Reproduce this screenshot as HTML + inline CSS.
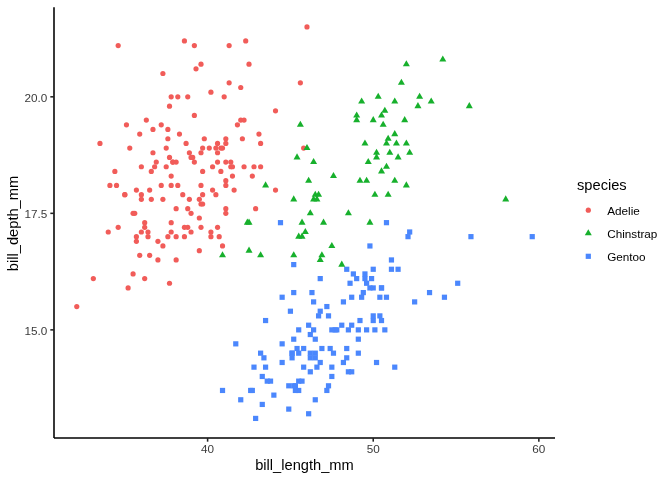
<!DOCTYPE html>
<html><head><meta charset="utf-8"><title>penguins</title>
<style>
html,body{margin:0;padding:0;background:#fff;}
body{width:672px;height:480px;overflow:hidden;}
svg{display:block;will-change:transform;font-family:"Liberation Sans",Arial,Helvetica,sans-serif;}
.at{font-size:11.73px;fill:#3A3A3A;}
.ti{font-size:14.67px;fill:#000;}
.lt{font-size:11.73px;fill:#000;}
</style></head><body>
<svg width="672" height="480" viewBox="0 0 672 480">
<rect width="672" height="480" fill="#fff"/>
<g>
<circle cx="192.71" cy="157.41" r="2.6" fill="#F15C59"/>
<circle cx="199.33" cy="218.00" r="2.6" fill="#F15C59"/>
<circle cx="212.58" cy="190.04" r="2.6" fill="#F15C59"/>
<circle cx="152.96" cy="129.45" r="2.6" fill="#F15C59"/>
<circle cx="196.02" cy="68.85" r="2.6" fill="#F15C59"/>
<circle cx="189.39" cy="199.36" r="2.6" fill="#F15C59"/>
<circle cx="194.36" cy="115.46" r="2.6" fill="#F15C59"/>
<circle cx="109.90" cy="185.38" r="2.6" fill="#F15C59"/>
<circle cx="240.74" cy="87.50" r="2.6" fill="#F15C59"/>
<circle cx="171.18" cy="231.99" r="2.6" fill="#F15C59"/>
<circle cx="171.18" cy="222.66" r="2.6" fill="#F15C59"/>
<circle cx="225.83" cy="208.68" r="2.6" fill="#F15C59"/>
<circle cx="184.43" cy="40.89" r="2.6" fill="#F15C59"/>
<circle cx="118.18" cy="45.55" r="2.6" fill="#F15C59"/>
<circle cx="151.30" cy="199.36" r="2.6" fill="#F15C59"/>
<circle cx="186.08" cy="143.43" r="2.6" fill="#F15C59"/>
<circle cx="249.02" cy="64.19" r="2.6" fill="#F15C59"/>
<circle cx="114.87" cy="171.39" r="2.6" fill="#F15C59"/>
<circle cx="306.98" cy="26.91" r="2.6" fill="#F15C59"/>
<circle cx="171.18" cy="176.06" r="2.6" fill="#F15C59"/>
<circle cx="169.52" cy="157.41" r="2.6" fill="#F15C59"/>
<circle cx="139.71" cy="134.11" r="2.6" fill="#F15C59"/>
<circle cx="177.80" cy="185.38" r="2.6" fill="#F15C59"/>
<circle cx="187.74" cy="227.33" r="2.6" fill="#F15C59"/>
<circle cx="129.77" cy="148.09" r="2.6" fill="#F15C59"/>
<circle cx="217.55" cy="162.07" r="2.6" fill="#F15C59"/>
<circle cx="215.89" cy="194.70" r="2.6" fill="#F15C59"/>
<circle cx="172.83" cy="162.07" r="2.6" fill="#F15C59"/>
<circle cx="215.89" cy="148.09" r="2.6" fill="#F15C59"/>
<circle cx="199.33" cy="250.63" r="2.6" fill="#F15C59"/>
<circle cx="161.24" cy="185.38" r="2.6" fill="#F15C59"/>
<circle cx="199.33" cy="199.36" r="2.6" fill="#F15C59"/>
<circle cx="222.52" cy="148.09" r="2.6" fill="#F15C59"/>
<circle cx="147.99" cy="236.65" r="2.6" fill="#F15C59"/>
<circle cx="194.36" cy="45.55" r="2.6" fill="#F15C59"/>
<circle cx="187.74" cy="96.82" r="2.6" fill="#F15C59"/>
<circle cx="244.05" cy="166.73" r="2.6" fill="#F15C59"/>
<circle cx="167.86" cy="129.45" r="2.6" fill="#F15C59"/>
<circle cx="204.30" cy="138.77" r="2.6" fill="#F15C59"/>
<circle cx="149.65" cy="190.04" r="2.6" fill="#F15C59"/>
<circle cx="220.86" cy="171.39" r="2.6" fill="#F15C59"/>
<circle cx="141.36" cy="166.73" r="2.6" fill="#F15C59"/>
<circle cx="275.52" cy="110.80" r="2.6" fill="#F15C59"/>
<circle cx="157.93" cy="241.31" r="2.6" fill="#F15C59"/>
<circle cx="200.99" cy="152.75" r="2.6" fill="#F15C59"/>
<circle cx="225.83" cy="143.43" r="2.6" fill="#F15C59"/>
<circle cx="166.21" cy="148.09" r="2.6" fill="#F15C59"/>
<circle cx="141.36" cy="194.70" r="2.6" fill="#F15C59"/>
<circle cx="245.70" cy="40.89" r="2.6" fill="#F15C59"/>
<circle cx="200.99" cy="204.02" r="2.6" fill="#F15C59"/>
<circle cx="209.27" cy="148.09" r="2.6" fill="#F15C59"/>
<circle cx="124.80" cy="194.70" r="2.6" fill="#F15C59"/>
<circle cx="240.74" cy="120.12" r="2.6" fill="#F15C59"/>
<circle cx="116.52" cy="185.38" r="2.6" fill="#F15C59"/>
<circle cx="230.80" cy="162.07" r="2.6" fill="#F15C59"/>
<circle cx="191.05" cy="213.34" r="2.6" fill="#F15C59"/>
<circle cx="217.55" cy="152.75" r="2.6" fill="#F15C59"/>
<circle cx="149.65" cy="255.29" r="2.6" fill="#F15C59"/>
<circle cx="167.86" cy="138.77" r="2.6" fill="#F15C59"/>
<circle cx="136.40" cy="241.31" r="2.6" fill="#F15C59"/>
<circle cx="229.14" cy="45.55" r="2.6" fill="#F15C59"/>
<circle cx="167.86" cy="236.65" r="2.6" fill="#F15C59"/>
<circle cx="225.83" cy="180.72" r="2.6" fill="#F15C59"/>
<circle cx="147.99" cy="231.99" r="2.6" fill="#F15C59"/>
<circle cx="234.11" cy="190.04" r="2.6" fill="#F15C59"/>
<circle cx="133.08" cy="273.94" r="2.6" fill="#F15C59"/>
<circle cx="225.83" cy="138.77" r="2.6" fill="#F15C59"/>
<circle cx="139.71" cy="255.29" r="2.6" fill="#F15C59"/>
<circle cx="237.42" cy="124.79" r="2.6" fill="#F15C59"/>
<circle cx="99.96" cy="143.43" r="2.6" fill="#F15C59"/>
<circle cx="202.64" cy="171.39" r="2.6" fill="#F15C59"/>
<circle cx="200.99" cy="227.33" r="2.6" fill="#F15C59"/>
<circle cx="303.67" cy="148.09" r="2.6" fill="#F15C59"/>
<circle cx="133.08" cy="213.34" r="2.6" fill="#F15C59"/>
<circle cx="253.99" cy="166.73" r="2.6" fill="#F15C59"/>
<circle cx="222.52" cy="245.97" r="2.6" fill="#F15C59"/>
<circle cx="161.24" cy="124.79" r="2.6" fill="#F15C59"/>
<circle cx="144.68" cy="278.60" r="2.6" fill="#F15C59"/>
<circle cx="242.39" cy="138.77" r="2.6" fill="#F15C59"/>
<circle cx="118.18" cy="227.33" r="2.6" fill="#F15C59"/>
<circle cx="255.64" cy="208.68" r="2.6" fill="#F15C59"/>
<circle cx="152.96" cy="152.75" r="2.6" fill="#F15C59"/>
<circle cx="126.46" cy="124.79" r="2.6" fill="#F15C59"/>
<circle cx="162.90" cy="199.36" r="2.6" fill="#F15C59"/>
<circle cx="229.14" cy="82.84" r="2.6" fill="#F15C59"/>
<circle cx="146.33" cy="120.12" r="2.6" fill="#F15C59"/>
<circle cx="156.27" cy="162.07" r="2.6" fill="#F15C59"/>
<circle cx="179.46" cy="134.11" r="2.6" fill="#F15C59"/>
<circle cx="189.39" cy="152.75" r="2.6" fill="#F15C59"/>
<circle cx="136.40" cy="190.04" r="2.6" fill="#F15C59"/>
<circle cx="225.83" cy="185.38" r="2.6" fill="#F15C59"/>
<circle cx="108.24" cy="231.99" r="2.6" fill="#F15C59"/>
<circle cx="200.99" cy="185.38" r="2.6" fill="#F15C59"/>
<circle cx="144.68" cy="222.66" r="2.6" fill="#F15C59"/>
<circle cx="220.86" cy="148.09" r="2.6" fill="#F15C59"/>
<circle cx="176.14" cy="162.07" r="2.6" fill="#F15C59"/>
<circle cx="212.58" cy="166.73" r="2.6" fill="#F15C59"/>
<circle cx="93.33" cy="278.60" r="2.6" fill="#F15C59"/>
<circle cx="260.61" cy="166.73" r="2.6" fill="#F15C59"/>
<circle cx="124.80" cy="194.70" r="2.6" fill="#F15C59"/>
<circle cx="224.17" cy="96.82" r="2.6" fill="#F15C59"/>
<circle cx="169.52" cy="283.26" r="2.6" fill="#F15C59"/>
<circle cx="171.18" cy="96.82" r="2.6" fill="#F15C59"/>
<circle cx="172.83" cy="162.07" r="2.6" fill="#F15C59"/>
<circle cx="202.64" cy="148.09" r="2.6" fill="#F15C59"/>
<circle cx="184.43" cy="227.33" r="2.6" fill="#F15C59"/>
<circle cx="177.80" cy="96.82" r="2.6" fill="#F15C59"/>
<circle cx="176.14" cy="236.65" r="2.6" fill="#F15C59"/>
<circle cx="260.61" cy="143.43" r="2.6" fill="#F15C59"/>
<circle cx="176.14" cy="259.95" r="2.6" fill="#F15C59"/>
<circle cx="300.36" cy="82.84" r="2.6" fill="#F15C59"/>
<circle cx="202.64" cy="204.02" r="2.6" fill="#F15C59"/>
<circle cx="244.05" cy="120.12" r="2.6" fill="#F15C59"/>
<circle cx="200.99" cy="64.19" r="2.6" fill="#F15C59"/>
<circle cx="252.33" cy="176.06" r="2.6" fill="#F15C59"/>
<circle cx="184.43" cy="236.65" r="2.6" fill="#F15C59"/>
<circle cx="162.90" cy="73.52" r="2.6" fill="#F15C59"/>
<circle cx="136.40" cy="236.65" r="2.6" fill="#F15C59"/>
<circle cx="225.83" cy="162.07" r="2.6" fill="#F15C59"/>
<circle cx="144.68" cy="227.33" r="2.6" fill="#F15C59"/>
<circle cx="169.52" cy="106.14" r="2.6" fill="#F15C59"/>
<circle cx="210.92" cy="236.65" r="2.6" fill="#F15C59"/>
<circle cx="230.80" cy="166.73" r="2.6" fill="#F15C59"/>
<circle cx="128.11" cy="287.92" r="2.6" fill="#F15C59"/>
<circle cx="217.55" cy="143.43" r="2.6" fill="#F15C59"/>
<circle cx="187.74" cy="208.68" r="2.6" fill="#F15C59"/>
<circle cx="232.46" cy="176.06" r="2.6" fill="#F15C59"/>
<circle cx="191.05" cy="231.99" r="2.6" fill="#F15C59"/>
<circle cx="275.52" cy="190.04" r="2.6" fill="#F15C59"/>
<circle cx="182.77" cy="194.70" r="2.6" fill="#F15C59"/>
<circle cx="258.95" cy="134.11" r="2.6" fill="#F15C59"/>
<circle cx="154.61" cy="166.73" r="2.6" fill="#F15C59"/>
<circle cx="166.21" cy="166.73" r="2.6" fill="#F15C59"/>
<circle cx="176.14" cy="208.68" r="2.6" fill="#F15C59"/>
<circle cx="225.83" cy="213.34" r="2.6" fill="#F15C59"/>
<circle cx="134.74" cy="213.34" r="2.6" fill="#F15C59"/>
<circle cx="210.92" cy="92.16" r="2.6" fill="#F15C59"/>
<circle cx="157.93" cy="259.95" r="2.6" fill="#F15C59"/>
<circle cx="202.64" cy="194.70" r="2.6" fill="#F15C59"/>
<circle cx="210.92" cy="231.99" r="2.6" fill="#F15C59"/>
<circle cx="217.55" cy="227.33" r="2.6" fill="#F15C59"/>
<circle cx="76.77" cy="306.56" r="2.6" fill="#F15C59"/>
<circle cx="219.21" cy="236.65" r="2.6" fill="#F15C59"/>
<circle cx="162.90" cy="245.97" r="2.6" fill="#F15C59"/>
<circle cx="191.05" cy="157.41" r="2.6" fill="#F15C59"/>
<circle cx="194.36" cy="162.07" r="2.6" fill="#F15C59"/>
<circle cx="151.30" cy="171.39" r="2.6" fill="#F15C59"/>
<circle cx="141.36" cy="199.36" r="2.6" fill="#F15C59"/>
<circle cx="171.18" cy="185.38" r="2.6" fill="#F15C59"/>
<circle cx="141.36" cy="231.99" r="2.6" fill="#F15C59"/>
<circle cx="232.46" cy="166.73" r="2.6" fill="#F15C59"/>
<rect x="306.04" y="411.16" width="5.2" height="5.2" fill="#4B87FD"/>
<rect x="370.63" y="266.67" width="5.2" height="5.2" fill="#4B87FD"/>
<rect x="349.10" y="369.21" width="5.2" height="5.2" fill="#4B87FD"/>
<rect x="370.63" y="317.94" width="5.2" height="5.2" fill="#4B87FD"/>
<rect x="330.88" y="350.57" width="5.2" height="5.2" fill="#4B87FD"/>
<rect x="312.67" y="397.18" width="5.2" height="5.2" fill="#4B87FD"/>
<rect x="294.45" y="345.91" width="5.2" height="5.2" fill="#4B87FD"/>
<rect x="315.98" y="313.28" width="5.2" height="5.2" fill="#4B87FD"/>
<rect x="259.67" y="401.84" width="5.2" height="5.2" fill="#4B87FD"/>
<rect x="317.63" y="308.62" width="5.2" height="5.2" fill="#4B87FD"/>
<rect x="219.92" y="387.86" width="5.2" height="5.2" fill="#4B87FD"/>
<rect x="354.07" y="276.00" width="5.2" height="5.2" fill="#4B87FD"/>
<rect x="296.10" y="387.86" width="5.2" height="5.2" fill="#4B87FD"/>
<rect x="344.13" y="345.91" width="5.2" height="5.2" fill="#4B87FD"/>
<rect x="301.07" y="345.91" width="5.2" height="5.2" fill="#4B87FD"/>
<rect x="359.04" y="294.64" width="5.2" height="5.2" fill="#4B87FD"/>
<rect x="238.14" y="397.18" width="5.2" height="5.2" fill="#4B87FD"/>
<rect x="357.38" y="317.94" width="5.2" height="5.2" fill="#4B87FD"/>
<rect x="307.70" y="350.57" width="5.2" height="5.2" fill="#4B87FD"/>
<rect x="349.10" y="322.61" width="5.2" height="5.2" fill="#4B87FD"/>
<rect x="373.94" y="359.89" width="5.2" height="5.2" fill="#4B87FD"/>
<rect x="289.48" y="350.57" width="5.2" height="5.2" fill="#4B87FD"/>
<rect x="312.67" y="350.57" width="5.2" height="5.2" fill="#4B87FD"/>
<rect x="309.35" y="289.98" width="5.2" height="5.2" fill="#4B87FD"/>
<rect x="253.04" y="415.82" width="5.2" height="5.2" fill="#4B87FD"/>
<rect x="306.04" y="322.61" width="5.2" height="5.2" fill="#4B87FD"/>
<rect x="279.54" y="359.89" width="5.2" height="5.2" fill="#4B87FD"/>
<rect x="334.20" y="327.27" width="5.2" height="5.2" fill="#4B87FD"/>
<rect x="340.82" y="359.89" width="5.2" height="5.2" fill="#4B87FD"/>
<rect x="370.63" y="313.28" width="5.2" height="5.2" fill="#4B87FD"/>
<rect x="325.91" y="313.28" width="5.2" height="5.2" fill="#4B87FD"/>
<rect x="251.39" y="364.55" width="5.2" height="5.2" fill="#4B87FD"/>
<rect x="289.48" y="350.57" width="5.2" height="5.2" fill="#4B87FD"/>
<rect x="529.63" y="234.05" width="5.2" height="5.2" fill="#4B87FD"/>
<rect x="355.73" y="336.59" width="5.2" height="5.2" fill="#4B87FD"/>
<rect x="344.13" y="266.67" width="5.2" height="5.2" fill="#4B87FD"/>
<rect x="248.07" y="387.86" width="5.2" height="5.2" fill="#4B87FD"/>
<rect x="277.89" y="220.06" width="5.2" height="5.2" fill="#4B87FD"/>
<rect x="271.26" y="392.52" width="5.2" height="5.2" fill="#4B87FD"/>
<rect x="349.10" y="294.64" width="5.2" height="5.2" fill="#4B87FD"/>
<rect x="249.73" y="387.86" width="5.2" height="5.2" fill="#4B87FD"/>
<rect x="364.01" y="280.66" width="5.2" height="5.2" fill="#4B87FD"/>
<rect x="292.79" y="387.86" width="5.2" height="5.2" fill="#4B87FD"/>
<rect x="364.01" y="327.27" width="5.2" height="5.2" fill="#4B87FD"/>
<rect x="378.91" y="285.32" width="5.2" height="5.2" fill="#4B87FD"/>
<rect x="264.64" y="378.54" width="5.2" height="5.2" fill="#4B87FD"/>
<rect x="296.10" y="378.54" width="5.2" height="5.2" fill="#4B87FD"/>
<rect x="378.91" y="285.32" width="5.2" height="5.2" fill="#4B87FD"/>
<rect x="286.17" y="406.50" width="5.2" height="5.2" fill="#4B87FD"/>
<rect x="291.13" y="289.98" width="5.2" height="5.2" fill="#4B87FD"/>
<rect x="314.32" y="364.55" width="5.2" height="5.2" fill="#4B87FD"/>
<rect x="345.79" y="369.21" width="5.2" height="5.2" fill="#4B87FD"/>
<rect x="289.48" y="355.23" width="5.2" height="5.2" fill="#4B87FD"/>
<rect x="372.29" y="327.27" width="5.2" height="5.2" fill="#4B87FD"/>
<rect x="312.67" y="355.23" width="5.2" height="5.2" fill="#4B87FD"/>
<rect x="287.82" y="308.62" width="5.2" height="5.2" fill="#4B87FD"/>
<rect x="267.95" y="378.54" width="5.2" height="5.2" fill="#4B87FD"/>
<rect x="296.10" y="327.27" width="5.2" height="5.2" fill="#4B87FD"/>
<rect x="258.01" y="350.57" width="5.2" height="5.2" fill="#4B87FD"/>
<rect x="377.26" y="313.28" width="5.2" height="5.2" fill="#4B87FD"/>
<rect x="292.79" y="383.20" width="5.2" height="5.2" fill="#4B87FD"/>
<rect x="307.70" y="331.93" width="5.2" height="5.2" fill="#4B87FD"/>
<rect x="299.42" y="378.54" width="5.2" height="5.2" fill="#4B87FD"/>
<rect x="441.85" y="294.64" width="5.2" height="5.2" fill="#4B87FD"/>
<rect x="301.07" y="364.55" width="5.2" height="5.2" fill="#4B87FD"/>
<rect x="367.32" y="243.37" width="5.2" height="5.2" fill="#4B87FD"/>
<rect x="307.70" y="355.23" width="5.2" height="5.2" fill="#4B87FD"/>
<rect x="362.35" y="271.34" width="5.2" height="5.2" fill="#4B87FD"/>
<rect x="262.98" y="364.55" width="5.2" height="5.2" fill="#4B87FD"/>
<rect x="382.23" y="327.27" width="5.2" height="5.2" fill="#4B87FD"/>
<rect x="332.54" y="327.27" width="5.2" height="5.2" fill="#4B87FD"/>
<rect x="311.01" y="299.30" width="5.2" height="5.2" fill="#4B87FD"/>
<rect x="340.82" y="299.30" width="5.2" height="5.2" fill="#4B87FD"/>
<rect x="312.67" y="336.59" width="5.2" height="5.2" fill="#4B87FD"/>
<rect x="311.01" y="327.27" width="5.2" height="5.2" fill="#4B87FD"/>
<rect x="347.45" y="280.66" width="5.2" height="5.2" fill="#4B87FD"/>
<rect x="329.23" y="364.55" width="5.2" height="5.2" fill="#4B87FD"/>
<rect x="388.85" y="266.67" width="5.2" height="5.2" fill="#4B87FD"/>
<rect x="291.13" y="383.20" width="5.2" height="5.2" fill="#4B87FD"/>
<rect x="291.13" y="262.01" width="5.2" height="5.2" fill="#4B87FD"/>
<rect x="355.73" y="350.57" width="5.2" height="5.2" fill="#4B87FD"/>
<rect x="412.04" y="299.30" width="5.2" height="5.2" fill="#4B87FD"/>
<rect x="327.57" y="345.91" width="5.2" height="5.2" fill="#4B87FD"/>
<rect x="370.63" y="285.32" width="5.2" height="5.2" fill="#4B87FD"/>
<rect x="286.17" y="383.20" width="5.2" height="5.2" fill="#4B87FD"/>
<rect x="383.88" y="220.06" width="5.2" height="5.2" fill="#4B87FD"/>
<rect x="261.32" y="355.23" width="5.2" height="5.2" fill="#4B87FD"/>
<rect x="392.16" y="364.55" width="5.2" height="5.2" fill="#4B87FD"/>
<rect x="329.23" y="373.88" width="5.2" height="5.2" fill="#4B87FD"/>
<rect x="405.41" y="234.05" width="5.2" height="5.2" fill="#4B87FD"/>
<rect x="329.23" y="327.27" width="5.2" height="5.2" fill="#4B87FD"/>
<rect x="407.07" y="229.39" width="5.2" height="5.2" fill="#4B87FD"/>
<rect x="296.10" y="350.57" width="5.2" height="5.2" fill="#4B87FD"/>
<rect x="362.35" y="276.00" width="5.2" height="5.2" fill="#4B87FD"/>
<rect x="279.54" y="341.25" width="5.2" height="5.2" fill="#4B87FD"/>
<rect x="383.88" y="294.64" width="5.2" height="5.2" fill="#4B87FD"/>
<rect x="360.70" y="289.98" width="5.2" height="5.2" fill="#4B87FD"/>
<rect x="319.29" y="345.91" width="5.2" height="5.2" fill="#4B87FD"/>
<rect x="344.13" y="355.23" width="5.2" height="5.2" fill="#4B87FD"/>
<rect x="388.85" y="257.35" width="5.2" height="5.2" fill="#4B87FD"/>
<rect x="345.79" y="327.27" width="5.2" height="5.2" fill="#4B87FD"/>
<rect x="468.35" y="234.05" width="5.2" height="5.2" fill="#4B87FD"/>
<rect x="324.26" y="303.96" width="5.2" height="5.2" fill="#4B87FD"/>
<rect x="355.73" y="327.27" width="5.2" height="5.2" fill="#4B87FD"/>
<rect x="325.91" y="383.20" width="5.2" height="5.2" fill="#4B87FD"/>
<rect x="317.63" y="276.00" width="5.2" height="5.2" fill="#4B87FD"/>
<rect x="233.17" y="341.25" width="5.2" height="5.2" fill="#4B87FD"/>
<rect x="426.94" y="289.98" width="5.2" height="5.2" fill="#4B87FD"/>
<rect x="259.67" y="373.88" width="5.2" height="5.2" fill="#4B87FD"/>
<rect x="339.16" y="322.61" width="5.2" height="5.2" fill="#4B87FD"/>
<rect x="378.91" y="317.94" width="5.2" height="5.2" fill="#4B87FD"/>
<rect x="367.32" y="285.32" width="5.2" height="5.2" fill="#4B87FD"/>
<rect x="262.98" y="317.94" width="5.2" height="5.2" fill="#4B87FD"/>
<rect x="395.48" y="266.67" width="5.2" height="5.2" fill="#4B87FD"/>
<rect x="307.70" y="369.21" width="5.2" height="5.2" fill="#4B87FD"/>
<rect x="455.10" y="280.66" width="5.2" height="5.2" fill="#4B87FD"/>
<rect x="279.54" y="294.64" width="5.2" height="5.2" fill="#4B87FD"/>
<rect x="350.76" y="271.34" width="5.2" height="5.2" fill="#4B87FD"/>
<rect x="324.26" y="387.86" width="5.2" height="5.2" fill="#4B87FD"/>
<rect x="317.63" y="359.89" width="5.2" height="5.2" fill="#4B87FD"/>
<rect x="377.26" y="294.64" width="5.2" height="5.2" fill="#4B87FD"/>
<rect x="291.13" y="336.59" width="5.2" height="5.2" fill="#4B87FD"/>
<rect x="368.98" y="276.00" width="5.2" height="5.2" fill="#4B87FD"/>
<path d="M315.27 190.66L318.77 196.72L311.76 196.72Z" fill="#17B02C"/>
<path d="M373.23 116.08L376.73 122.15L369.73 122.15Z" fill="#17B02C"/>
<path d="M394.76 130.06L398.26 136.13L391.26 136.13Z" fill="#17B02C"/>
<path d="M297.05 153.37L300.55 159.43L293.55 159.43Z" fill="#17B02C"/>
<path d="M417.95 102.10L421.45 108.16L414.45 108.16Z" fill="#17B02C"/>
<path d="M293.73 195.32L297.24 201.38L290.23 201.38Z" fill="#17B02C"/>
<path d="M308.64 176.67L312.14 182.74L305.14 182.74Z" fill="#17B02C"/>
<path d="M394.76 176.67L398.26 182.74L391.26 182.74Z" fill="#17B02C"/>
<path d="M306.98 144.05L310.49 150.11L303.48 150.11Z" fill="#17B02C"/>
<path d="M394.76 97.44L398.26 103.50L391.26 103.50Z" fill="#17B02C"/>
<path d="M316.92 195.32L320.42 201.38L313.42 201.38Z" fill="#17B02C"/>
<path d="M401.39 78.79L404.89 84.86L397.89 84.86Z" fill="#17B02C"/>
<path d="M323.55 218.62L327.05 224.69L320.04 224.69Z" fill="#17B02C"/>
<path d="M406.36 181.33L409.86 187.40L402.85 187.40Z" fill="#17B02C"/>
<path d="M305.33 227.94L308.83 234.01L301.83 234.01Z" fill="#17B02C"/>
<path d="M381.51 111.42L385.01 117.49L378.01 117.49Z" fill="#17B02C"/>
<path d="M378.20 92.78L381.70 98.84L374.70 98.84Z" fill="#17B02C"/>
<path d="M505.73 195.32L509.23 201.38L502.23 201.38Z" fill="#17B02C"/>
<path d="M313.61 158.03L317.11 164.09L310.11 164.09Z" fill="#17B02C"/>
<path d="M359.98 176.67L363.48 182.74L356.48 182.74Z" fill="#17B02C"/>
<path d="M247.36 218.62L250.86 224.69L243.86 224.69Z" fill="#17B02C"/>
<path d="M348.39 209.30L351.89 215.36L344.89 215.36Z" fill="#17B02C"/>
<path d="M260.61 251.25L264.11 257.31L257.11 257.31Z" fill="#17B02C"/>
<path d="M383.17 120.74L386.67 126.81L379.67 126.81Z" fill="#17B02C"/>
<path d="M318.58 190.66L322.08 196.72L315.08 196.72Z" fill="#17B02C"/>
<path d="M406.36 139.39L409.86 145.45L402.85 145.45Z" fill="#17B02C"/>
<path d="M381.51 167.35L385.01 173.42L378.01 173.42Z" fill="#17B02C"/>
<path d="M364.95 139.39L368.45 145.45L361.45 145.45Z" fill="#17B02C"/>
<path d="M313.61 195.32L317.11 201.38L310.11 201.38Z" fill="#17B02C"/>
<path d="M419.61 92.78L423.11 98.84L416.10 98.84Z" fill="#17B02C"/>
<path d="M222.52 251.25L226.02 257.31L219.02 257.31Z" fill="#17B02C"/>
<path d="M442.79 55.49L446.29 61.55L439.29 61.55Z" fill="#17B02C"/>
<path d="M249.02 246.59L252.52 252.65L245.52 252.65Z" fill="#17B02C"/>
<path d="M389.79 148.71L393.30 154.77L386.29 154.77Z" fill="#17B02C"/>
<path d="M368.26 158.03L371.77 164.09L364.76 164.09Z" fill="#17B02C"/>
<path d="M331.83 241.93L335.33 247.99L328.33 247.99Z" fill="#17B02C"/>
<path d="M333.48 172.01L336.99 178.08L329.98 178.08Z" fill="#17B02C"/>
<path d="M406.36 60.15L409.86 66.22L402.85 66.22Z" fill="#17B02C"/>
<path d="M321.89 251.25L325.39 257.31L318.39 257.31Z" fill="#17B02C"/>
<path d="M431.20 97.44L434.70 103.50L427.70 103.50Z" fill="#17B02C"/>
<path d="M356.67 116.08L360.17 122.15L353.17 122.15Z" fill="#17B02C"/>
<path d="M310.30 209.30L313.80 215.36L306.80 215.36Z" fill="#17B02C"/>
<path d="M388.14 134.72L391.64 140.79L384.64 140.79Z" fill="#17B02C"/>
<path d="M298.70 232.60L302.20 238.67L295.20 238.67Z" fill="#17B02C"/>
<path d="M388.14 190.66L391.64 196.72L384.64 196.72Z" fill="#17B02C"/>
<path d="M386.48 162.69L389.98 168.76L382.98 168.76Z" fill="#17B02C"/>
<path d="M374.89 190.66L378.39 196.72L371.39 196.72Z" fill="#17B02C"/>
<path d="M356.67 111.42L360.17 117.49L353.17 117.49Z" fill="#17B02C"/>
<path d="M398.08 153.37L401.58 159.43L394.57 159.43Z" fill="#17B02C"/>
<path d="M369.92 218.62L373.42 224.69L366.42 224.69Z" fill="#17B02C"/>
<path d="M341.76 260.57L345.27 266.64L338.26 266.64Z" fill="#17B02C"/>
<path d="M396.42 139.39L399.92 145.45L392.92 145.45Z" fill="#17B02C"/>
<path d="M302.02 218.62L305.52 224.69L298.51 224.69Z" fill="#17B02C"/>
<path d="M384.83 106.76L388.33 112.82L381.32 112.82Z" fill="#17B02C"/>
<path d="M249.02 218.62L252.52 224.69L245.52 224.69Z" fill="#17B02C"/>
<path d="M409.67 148.71L413.17 154.77L406.17 154.77Z" fill="#17B02C"/>
<path d="M293.73 251.25L297.24 257.31L290.23 257.31Z" fill="#17B02C"/>
<path d="M361.64 97.44L365.14 103.50L358.14 103.50Z" fill="#17B02C"/>
<path d="M376.54 148.71L380.05 154.77L373.04 154.77Z" fill="#17B02C"/>
<path d="M300.36 120.74L303.86 126.81L296.86 126.81Z" fill="#17B02C"/>
<path d="M404.70 116.08L408.20 122.15L401.20 122.15Z" fill="#17B02C"/>
<path d="M320.23 255.91L323.74 261.97L316.73 261.97Z" fill="#17B02C"/>
<path d="M302.02 232.60L305.52 238.67L298.51 238.67Z" fill="#17B02C"/>
<path d="M469.29 102.10L472.79 108.16L465.79 108.16Z" fill="#17B02C"/>
<path d="M265.58 181.33L269.08 187.40L262.08 187.40Z" fill="#17B02C"/>
<path d="M366.61 176.67L370.11 182.74L363.11 182.74Z" fill="#17B02C"/>
<path d="M386.48 139.39L389.98 145.45L382.98 145.45Z" fill="#17B02C"/>
<path d="M376.54 153.37L380.05 159.43L373.04 159.43Z" fill="#17B02C"/>
</g>
<g stroke="#000" stroke-width="1.56" fill="none" stroke-linecap="butt">
<path d="M54.0 438.0L54.0 7.33"/>
<path d="M54.0 438.0L555.0 438.0"/>
</g>
<g stroke="#222222" stroke-width="1.56" fill="none">
<path d="M50.33 329.87L54.0 329.87"/>
<path d="M50.33 213.34L54.0 213.34"/>
<path d="M50.33 96.82L54.0 96.82"/>
<path d="M207.61 438.0L207.61 441.67"/>
<path d="M373.23 438.0L373.23 441.67"/>
<path d="M538.85 438.0L538.85 441.67"/>
</g>
<text class="at" x="47.40" y="334.87" text-anchor="end">15.0</text>
<text class="at" x="47.40" y="218.34" text-anchor="end">17.5</text>
<text class="at" x="47.40" y="101.82" text-anchor="end">20.0</text>
<text class="at" x="207.61" y="452.50" text-anchor="middle">40</text>
<text class="at" x="373.23" y="452.50" text-anchor="middle">50</text>
<text class="at" x="538.85" y="452.50" text-anchor="middle">60</text>
<text class="ti" x="304.50" y="470.4" text-anchor="middle">bill_length_mm</text>
<text class="ti" transform="translate(18.0 223.47) rotate(-90)" text-anchor="middle">bill_depth_mm</text>
<text class="ti" x="577" y="189.9">species</text>
<circle cx="588.30" cy="210.20" r="2.6" fill="#F15C59"/>
<path d="M588.30 229.16L591.80 235.22L584.80 235.22Z" fill="#17B02C"/>
<rect x="585.70" y="253.70" width="5.2" height="5.2" fill="#4B87FD"/>
<text class="lt" x="607.2" y="214.9">Adelie</text>
<text class="lt" x="607.2" y="237.9">Chinstrap</text>
<text class="lt" x="607.2" y="260.9">Gentoo</text>
</svg></body></html>
